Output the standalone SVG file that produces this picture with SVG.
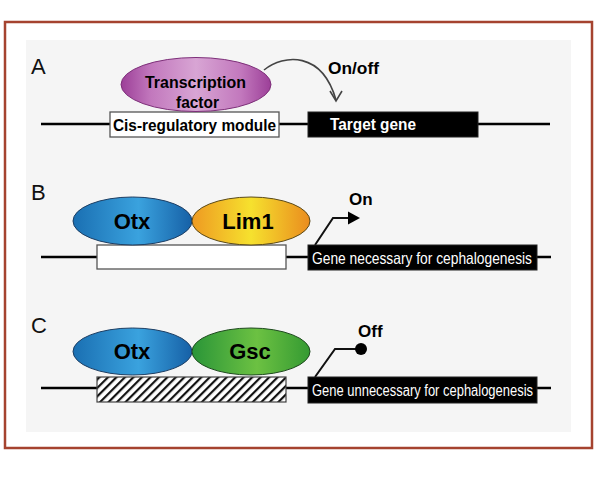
<svg xmlns="http://www.w3.org/2000/svg" width="595" height="486" viewBox="0 0 595 486">
  <defs>
    <style>
      .lbl { font-family: "Liberation Sans", Arial, sans-serif; font-size: 22px; fill: #111; }
      .b { font-family: "Liberation Sans", Arial, sans-serif; font-weight: bold; fill: #000; }
      .w { font-family: "Liberation Sans", Arial, sans-serif; fill: #fff; }
      .dna { stroke: #000; stroke-width: 2.5; fill: none; }
      .gene { fill: #000; stroke: #222; stroke-width: 1; }
      .crm { fill: #fff; stroke: #555; stroke-width: 1.3; }
      .ptr { stroke: #111; stroke-width: 2; fill: none; }
    </style>
    <linearGradient id="gPurple" x1="0" y1="0" x2="1" y2="0">
      <stop offset="0" stop-color="#9c3f98"/>
      <stop offset="0.2" stop-color="#c278bd"/>
      <stop offset="0.5" stop-color="#d8a5d4"/>
      <stop offset="0.8" stop-color="#c278bd"/>
      <stop offset="1" stop-color="#9c3f98"/>
    </linearGradient>
    <linearGradient id="gBlue" x1="0" y1="0" x2="1" y2="0">
      <stop offset="0" stop-color="#1a6fb2"/>
      <stop offset="0.55" stop-color="#3aa2de"/>
      <stop offset="1" stop-color="#1660a6"/>
    </linearGradient>
    <linearGradient id="gYellow" x1="0" y1="0" x2="1" y2="0">
      <stop offset="0" stop-color="#ee9a22"/>
      <stop offset="0.5" stop-color="#f6e12e"/>
      <stop offset="1" stop-color="#ea8c1e"/>
    </linearGradient>
    <linearGradient id="gGreen" x1="0" y1="0" x2="1" y2="0">
      <stop offset="0" stop-color="#2a9538"/>
      <stop offset="0.55" stop-color="#6cc142"/>
      <stop offset="1" stop-color="#349a32"/>
    </linearGradient>
    <pattern id="hatch" patternUnits="userSpaceOnUse" width="6" height="6" patternTransform="rotate(45)">
      <rect width="6" height="6" fill="#fff"/>
      <rect x="0" y="0" width="2.2" height="6" fill="#111"/>
    </pattern>
  </defs>

  <!-- frame and panel -->
  <rect x="5" y="22" width="587" height="426" fill="#fff" stroke="#a5432f" stroke-width="2.5"/>
  <rect x="26" y="40" width="545" height="392" fill="#f5f5f5"/>

  <!-- Panel labels -->
  <text class="lbl" x="31" y="74">A</text>
  <text class="lbl" x="31" y="200">B</text>
  <text class="lbl" x="31" y="333">C</text>

  <!-- connectors / DNA lines -->
  <g id="connectors">
    <path class="dna" d="M41 124 H110 M279 124 H308 M478 124 H550"/>
    <path class="dna" d="M41 257 H97 M286 257 H308 M537 257 H551"/>
    <path class="dna" d="M41 388 H97 M286 388 H308 M537 388 H551"/>
    <path d="M264 70 C 284 54, 322 51, 336 100" stroke="#444" stroke-width="1.6" fill="none"/>
    <path d="M330 91 L336 101 L342 91" stroke="#444" stroke-width="1.6" fill="none"/>
    <polyline class="ptr" points="315,245 333,218 350,218"/>
    <polygon points="348,211.5 360,218 348,224.5" fill="#000"/>
    <polyline class="ptr" points="315,377 335,349 356,349"/>
    <circle cx="361" cy="349" r="6" fill="#000"/>
  </g>

  <!-- Panel A -->
  <g id="crmA">
    <rect class="crm" x="110" y="112" width="169" height="25"/>
    <text class="b" x="113" y="131" font-size="16" textLength="163" lengthAdjust="spacingAndGlyphs">Cis-regulatory module</text>
  </g>
  <g id="tf">
    <ellipse cx="196" cy="84.5" rx="75" ry="27" fill="url(#gPurple)" stroke="#7d2f79" stroke-width="1"/>
    <text class="b" x="145" y="88" font-size="17" textLength="101" lengthAdjust="spacingAndGlyphs">Transcription</text>
    <text class="b" x="176" y="108" font-size="17" textLength="43" lengthAdjust="spacingAndGlyphs">factor</text>
  </g>
  <g id="targetGene">
    <rect class="gene" x="308" y="112" width="170" height="25"/>
    <text class="b" x="330" y="130" font-size="16" style="fill:#fff" textLength="86" lengthAdjust="spacingAndGlyphs">Target gene</text>
  </g>
  <text class="b" x="328" y="74" font-size="17" textLength="51" lengthAdjust="spacingAndGlyphs">On/off</text>

  <!-- Panel B -->
  <g id="crmB">
    <rect class="crm" x="97" y="245" width="189" height="24"/>
  </g>
  <g id="otxB">
    <ellipse cx="132.5" cy="221" rx="59.5" ry="24" fill="url(#gBlue)" stroke="#1d3e63" stroke-width="1"/>
    <text class="b" x="132" y="229" font-size="22" text-anchor="middle">Otx</text>
  </g>
  <g id="lim1">
    <ellipse cx="251" cy="221" rx="59" ry="24" fill="url(#gYellow)" stroke="#5a4a1a" stroke-width="1"/>
    <text class="b" x="248" y="229" font-size="22" text-anchor="middle">Lim1</text>
  </g>
  <g id="geneB">
    <rect class="gene" x="308" y="245" width="229" height="25"/>
    <text class="w" x="312" y="263.5" font-size="16.5" textLength="220" lengthAdjust="spacingAndGlyphs">Gene necessary for cephalogenesis</text>
  </g>
  <text class="b" x="349" y="205" font-size="17">On</text>

  <!-- Panel C -->
  <g id="crmC">
    <rect x="97" y="377" width="189" height="25" fill="url(#hatch)" stroke="#444" stroke-width="1.2"/>
  </g>
  <g id="otxC">
    <ellipse cx="132.5" cy="351.5" rx="59.5" ry="23.5" fill="url(#gBlue)" stroke="#1d3e63" stroke-width="1"/>
    <text class="b" x="132" y="359" font-size="22" text-anchor="middle">Otx</text>
  </g>
  <g id="gsc">
    <ellipse cx="251" cy="351.5" rx="59" ry="23.5" fill="url(#gGreen)" stroke="#1f4a1f" stroke-width="1"/>
    <text class="b" x="250" y="359" font-size="22" text-anchor="middle">Gsc</text>
  </g>
  <g id="geneC">
    <rect class="gene" x="308" y="377" width="229" height="26"/>
    <text class="w" x="312" y="395.5" font-size="16" textLength="221" lengthAdjust="spacingAndGlyphs">Gene unnecessary for cephalogenesis</text>
  </g>
  <text class="b" x="358" y="337" font-size="17">Off</text>
</svg>
